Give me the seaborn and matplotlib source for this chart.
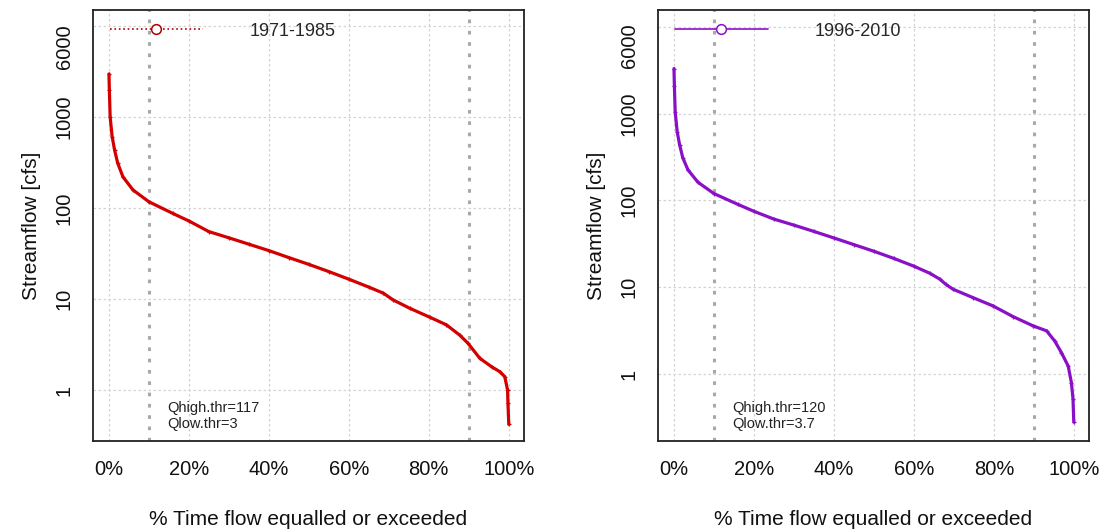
import matplotlib
matplotlib.use("Agg")
import matplotlib.pyplot as plt
from matplotlib.lines import Line2D
import numpy as np
import pandas as pd
import seaborn as sns

# ------------------------------------------------------------------
# Data (flow duration curves)
# ------------------------------------------------------------------
pct_1971 = [0, 0.1, 0.3, 0.8, 1.4, 2.2, 3.5, 6, 10, 16, 20, 25, 30, 35, 40, 45,
            50, 55, 60, 65, 68.6, 71.1, 75.25, 80.25, 84.4, 87.75, 89.8, 92.75,
            95.7, 97.75, 99, 99.7, 99.8, 100]
flow_1971 = [2970, 2000, 1000, 610, 435, 310, 220, 158, 117, 87, 72, 55, 47, 40, 34, 28.5,
             24, 20, 16.5, 13.5, 11.6, 9.75, 7.9, 6.3, 5.2, 4.0, 3.26, 2.23,
             1.8, 1.59, 1.4, 1.0, 0.71, 0.42]

pct_1996 = [0, 0.1, 0.3, 0.8, 1.4, 2.2, 3.5, 6, 10, 16, 20, 25, 30, 35, 40, 45,
            50, 55, 60, 64, 66.5, 68, 69.8, 74.8, 79.8, 84.8, 89.8, 93.2,
            95.25, 96.9, 98.6, 99.4, 99.8, 100]
flow_1996 = [3300, 2100, 1050, 620, 440, 310, 225, 162, 120, 90, 75, 61, 52, 44, 37, 31,
             26, 21.5, 17.5, 14.5, 12.4, 10.8, 9.5, 7.6, 6.1, 4.6, 3.6, 3.15,
             2.4, 1.77, 1.24, 0.8, 0.52, 0.28]

periods = ["1971-1985", "1996-2010"]
colors = ["#D40000", "#8A10C8"]
legend_colors = ["#B00000", "#8A10C8"]
legend_styles = [":", "-"]
thr_text = ["Qhigh.thr=117\nQlow.thr=3", "Qhigh.thr=120\nQlow.thr=3.7"]
ylims = [(0.275, 15000), (0.17, 15600)]

ytick_vals = [1, 10, 100, 1000, 2000, 4000, 6000, 8000, 10000]
ytick_labels = ["1", "10", "100", "1000", "", "", "6000", "", ""]
xtick_vals = list(range(0, 101, 5))
xtick_labels = [f"{v}%" if v % 20 == 0 else "" for v in xtick_vals]
hgrid = [1, 10, 100, 1000, 10000]
vgrid = [0, 20, 40, 60, 80, 100]
thr_pct = [10, 90]

sns.set_style("white")
plt.rcParams["font.family"] = ["Liberation Sans", "DejaVu Sans"]

fig = plt.figure(figsize=(11.04, 5.29), dpi=100)
ax_pos = [[0.0842, 0.1664, 0.3904, 0.8147], [0.596, 0.1664, 0.3904, 0.8147]]

curves = [(pct_1971, flow_1971), (pct_1996, flow_1996)]
for i in range(2):
    ax = fig.add_axes(ax_pos[i])
    df = pd.DataFrame({"pct": curves[i][0], "flow": curves[i][1]})

    # grid first
    for g in hgrid:
        ax.axhline(g, color="#D3D3D3", ls=(0, (2, 2)), lw=0.9, zorder=0)
    for g in vgrid:
        ax.axvline(g, color="#D3D3D3", ls=(0, (2, 2)), lw=0.9, zorder=0)
    for g in thr_pct:
        ax.axvline(g, color="#A8A8A8", ls=(0, (1.2, 2.5)), lw=2.2, zorder=0)

    sns.lineplot(data=df, x="pct", y="flow", ax=ax, color=colors[i], lw=2.3,
                 marker="+", markersize=3.5, markeredgewidth=0.9,
                 markeredgecolor=colors[i], markerfacecolor=colors[i],
                 estimator=None, sort=False, zorder=3)

    ax.set_yscale("log")
    ax.set_xlim(-4, 103.8)
    ax.set_ylim(*ylims[i])
    ax.set_yticks(ytick_vals)
    ax.set_yticklabels(ytick_labels, rotation=90, va="center")
    ax.minorticks_off()
    ax.set_xticks(xtick_vals)
    ax.set_xticklabels(xtick_labels)
    ax.tick_params(axis="both", direction="out", length=7, width=1, color="black",
                   labelsize=14.5, labelcolor="#111111", pad=7)
    ax.tick_params(axis="x", pad=7)
    for s in ax.spines.values():
        s.set_visible(True)
        s.set_color("#222222")
        s.set_linewidth(1.3)

    ax.set_xlabel("% Time flow equalled or exceeded", fontsize=15, labelpad=22, color="#111111")
    ax.set_ylabel("Streamflow [cfs]", fontsize=15, labelpad=10, color="#111111")

    handle = Line2D([0], [0], color=legend_colors[i], ls=legend_styles[i], lw=1.2,
                    marker="o", markersize=7, markerfacecolor="white",
                    markeredgecolor=legend_colors[i], markeredgewidth=1.1)
    ax.legend([handle], [periods[i]], loc="center left", bbox_to_anchor=(0.039, 0.951),
              frameon=False, borderaxespad=0, borderpad=0, handlelength=5.15,
              handletextpad=2.6, fontsize=13, numpoints=1)

    ax.text(0.172, 0.058, thr_text[i], transform=ax.transAxes, fontsize=10.5,
            va="center", ha="left", linespacing=1.25, color="#222222")

fig.savefig("out.png", dpi=100)
